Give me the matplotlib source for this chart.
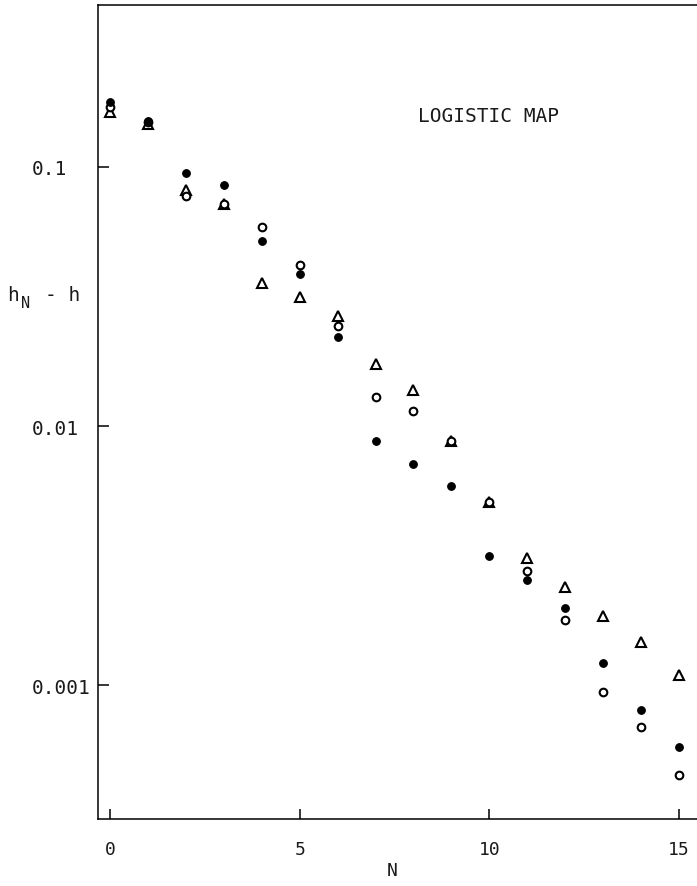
import matplotlib
matplotlib.use("Agg")
import matplotlib.pyplot as plt
import numpy as np

# Iteration index
N = list(range(16))

# h_N - h for three sequences
filled_vals = [0.178, 0.1505, 0.0948, 0.0852, 0.0518, 0.0386, 0.0221, 0.00875,
               0.00713, 0.00587, 0.00315, 0.00254, 0.00198, 0.00122, 0.000801, 0.000576]
circle_vals = [0.1704, 0.1492, 0.0773, 0.0720, 0.0587, 0.0418, 0.0243, 0.01294,
               0.01143, 0.00875, 0.00509, 0.00276, 0.00178, 0.00094, 0.000688, 0.000449]
triangle_vals = [0.1631, 0.1466, 0.0815, 0.0720, 0.0356, 0.0315, 0.0266, 0.01735,
                 0.01377, 0.00875, 0.00509, 0.00309, 0.00239, 0.001846, 0.001466, 0.001093]

y_ticks = [0.1, 0.01, 0.001]
y_tick_labels = ["0.1", "0.01", "0.001"]
x_ticks = [0, 5, 10, 15]
x_tick_labels = ["0", "5", "10", "15"]

W, H = 697, 887
fig = plt.figure(figsize=(W / 100, H / 100), dpi=100)
mono = "DejaVu Sans Mono"
txt_color = "#1a1a1a"

ax = fig.add_axes([98 / W, 1 - 820 / H, (W - 98) / W, (820 - 6) / H])
ax.set_yscale("log")
ax.set_xlim(-0.316, 15.476)
ax.set_ylim(3.04e-4, 0.422)

ax.plot(N, triangle_vals, linestyle="none", marker="^", ms=7, mfc="white",
        mec="black", mew=1.5, zorder=3)
ax.plot(N, circle_vals, linestyle="none", marker="o", ms=5.5, mfc="white",
        mec="black", mew=1.5, zorder=4)
ax.plot(N, filled_vals, linestyle="none", marker="o", ms=5.5, mfc="black",
        mec="black", mew=0.8, zorder=5)

for side in ["left", "bottom", "top"]:
    ax.spines[side].set_linewidth(1.1)
ax.spines["right"].set_visible(False)

ax.yaxis.set_minor_locator(matplotlib.ticker.NullLocator())
ax.set_yticks(y_ticks)
ax.set_yticklabels(y_tick_labels, family=mono, fontsize=14, color=txt_color)
ax.set_xticks(x_ticks)
ax.set_xticklabels(x_tick_labels, family=mono, fontsize=13, color=txt_color)
ax.tick_params(axis="y", direction="in", length=8, width=1.1, pad=47.5,
               right=False)
ax.tick_params(axis="x", direction="in", length=7, width=1.1, pad=15,
               top=False)
for lab in ax.get_yticklabels():
    lab.set_horizontalalignment("left")

# Annotation and axis titles
fig.text(418 / W, 1 - 117 / H, "LOGISTIC MAP", family=mono, fontsize=14,
         ha="left", va="center", color=txt_color)
fig.text(392 / W, 1 - 871 / H, "N", family=mono, fontsize=13,
         ha="center", va="center", color=txt_color)
fig.text(7 / W, 1 - 296 / H, "h", family=mono, fontsize=14,
         ha="left", va="center", color=txt_color)
fig.text(21 / W, 1 - 304 / H, "N", family=mono, fontsize=11,
         ha="left", va="center", color=txt_color)
fig.text(45 / W, 1 - 296 / H, "- h", family=mono, fontsize=14,
         ha="left", va="center", color=txt_color)

fig.savefig("out.png", dpi=100, facecolor="white")
